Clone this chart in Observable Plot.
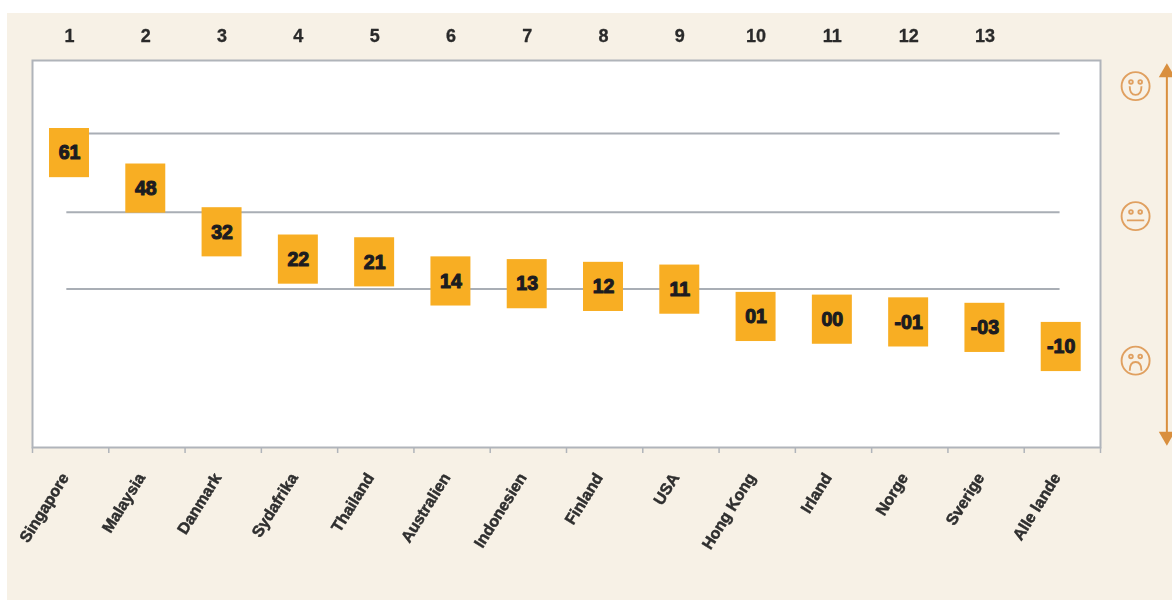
<!DOCTYPE html>
<html><head><meta charset="utf-8">
<script src="https://cdn.jsdelivr.net/npm/d3@7"></script>
<script src="https://cdn.jsdelivr.net/npm/@observablehq/plot@0.6"></script>
<style>
html,body{margin:0;padding:0;background:#fff;}
#panel{position:absolute;left:7px;top:13px;width:1165px;height:587px;background:#f7f1e6;}
#chart{position:absolute;left:0;top:0;filter:blur(0.55px);}
svg{background:transparent !important;display:block;}
</style></head><body>
<div id="panel"></div><div id="chart"></div>
<script>
const categories=["Singapore","Malaysia","Danmark","Sydafrika","Thailand","Australien","Indonesien","Finland","USA","Hong Kong","Irland","Norge","Sverige","Alle lande"];
const values=[61,48,32,22,21,14,13,12,11,1,0,-1,-3,-10];
const valueLabels=["61","48","32","22","21","14","13","12","11","01","00","-01","-03","-10"];
const ranks=[1,2,3,4,5,6,7,8,9,10,11,12,13];
const gridLevels=[68.2,39.3,11.2];
const faceLevels=[85.5,37.9,-15];
const tickPositions=d3.range(0,15);

const orange="#d98f3e", face="#e0a060";
const boxW=0.262, boxH=9;
const arrowX=14.87, faceX=14.46;
const rows=categories.map((c,i)=>({c,v:values[i],l:valueLabels[i],p:i+0.485}));

function faceSymbol(mouth){
  return {draw(ctx,size){
    const r=Math.sqrt(size/Math.PI);
    ctx.moveTo(r,0);ctx.arc(0,0,r,0,2*Math.PI);
    const e=r*0.13;
    for(const sx of [-0.33,0.33]){ctx.moveTo(sx*r+e,-0.3*r);ctx.arc(sx*r,-0.3*r,e,0,2*Math.PI);}
    mouth(ctx,r);
  }};
}
const smile=faceSymbol((c,r)=>{c.moveTo(-0.42*r,0);c.quadraticCurveTo(-0.42*r,0.62*r,0,0.62*r);c.quadraticCurveTo(0.42*r,0.62*r,0.42*r,0);});
const neutral=faceSymbol((c,r)=>{c.moveTo(-0.62*r,0.3*r);c.lineTo(0.62*r,0.3*r);});
const frown=faceSymbol((c,r)=>{c.moveTo(-0.42*r,0.72*r);c.quadraticCurveTo(-0.42*r,0.1*r,0,0.1*r);c.quadraticCurveTo(0.42*r,0.1*r,0.42*r,0.72*r);});
const faces=[smile,neutral,frown];

const plot=Plot.plot({
  width:1172,height:601,
  marginTop:60,marginBottom:154,marginLeft:32,marginRight:72,
  style:{background:"transparent",fontFamily:"'Liberation Sans',Arial,sans-serif"},
  x:{type:"linear",domain:[0,14],axis:null},
  y:{type:"linear",domain:[-46.8,94.9],axis:null},
  marks:[
    Plot.frame({fill:"#fff",stroke:"#b0b4ba",strokeWidth:2}),
    Plot.axisX({ticks:tickPositions,tickFormat:()=>"",tickSize:6,stroke:"#b0b4ba",strokeWidth:1.5,anchor:"bottom",label:null}),
    Plot.ruleY(gridLevels,{y:d=>d,x1:0.45,x2:13.47,stroke:"#a9aeb5",strokeWidth:2}),
    Plot.rect(rows,{x1:d=>d.p-boxW,x2:d=>d.p+boxW,y1:d=>d.v-boxH,y2:d=>d.v+boxH,fill:"#f8ae23"}),
    Plot.text(rows,{x:"p",y:"v",text:"l",fontSize:19.5,fontWeight:"bold",fill:"#1c1c20",stroke:"#1c1c20",strokeWidth:1.1}),
    Plot.text(ranks,{x:d=>d-0.515,frameAnchor:"top",dy:-31,text:d=>String(d),fontSize:18,fontWeight:"bold",fill:"#2a2a2a",stroke:"#2a2a2a",strokeWidth:0.3,lineAnchor:"top"}),
    Plot.text(rows,{x:"p",frameAnchor:"bottom",dy:30,text:"c",rotate:-58,textAnchor:"end",fontSize:16,fontWeight:"bold",fill:"#2e2e2e",stroke:"#2e2e2e",strokeWidth:0.5}),
    Plot.ruleX([arrowX],{x:d=>d,y1:-44,y2:92,stroke:orange,strokeWidth:2}),
    Plot.dot([arrowX],{x:d=>d,y:90.5,symbol:"triangle",r:6,fill:orange}),
    Plot.dot([arrowX],{x:d=>d,y:-42.7,symbol:"triangle",r:6,rotate:180,fill:orange}),
    ...faces.map((s,i)=>Plot.dot([faceLevels[i]],{x:faceX,y:d=>d,symbol:s,r:14,fill:"none",stroke:face,strokeWidth:1.9}))
  ]
});
document.getElementById("chart").append(plot);
</script></body></html>
